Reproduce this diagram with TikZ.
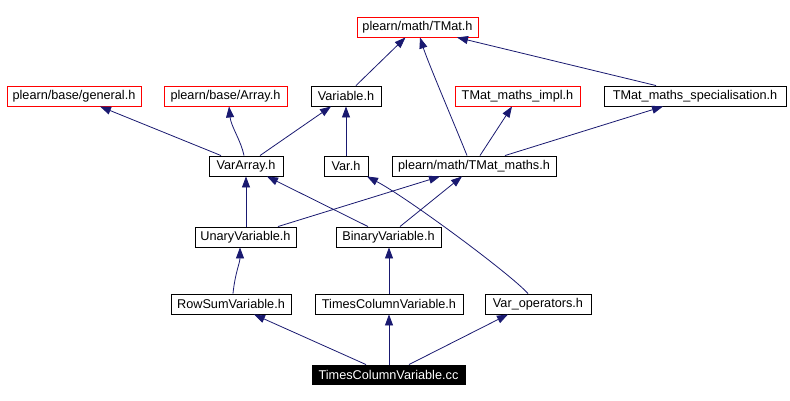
\documentclass[tikz,border=0pt]{standalone}
\usepackage{fontspec}
\setmainfont{Liberation Sans}
\usetikzlibrary{arrows.meta}
\definecolor{navy}{HTML}{191970}
\begin{document}
\begin{tikzpicture}[x=1pt,y=-1pt,
  box/.style={draw=black,line width=0.9pt,fill=white,minimum height=20pt,inner sep=0pt,
    font=\fontsize{12.7}{15}\selectfont,text=black},
  redbox/.style={box,draw=red},
  mainbox/.style={box,fill=black,text=white},
  edge/.style={draw=navy,line width=0.8pt,{Triangle[length=11pt,width=8pt,fill=navy]}-}]
\useasboundingbox (0,0) rectangle (790,401);
\node[redbox,minimum width=121pt] (TMat) at (417.5,27) {plearn/math/TMat.h};
\node[redbox,minimum width=134pt] (general) at (74,96) {plearn/base/general.h};
\node[redbox,minimum width=123pt] (Array) at (225.5,96) {plearn/base/Array.h};
\node[box,minimum width=70pt] (Variable) at (346,96) {Variable.h};
\node[redbox,minimum width=125pt] (impl) at (517.5,96) {TMat\_maths\_impl.h};
\node[box,minimum width=182pt] (spec) at (695,96) {TMat\_maths\_specialisation.h};
\node[box,minimum width=74pt] (VarArray) at (246,166) {VarArray.h};
\node[box,minimum width=44pt] (Var) at (346,166) {Var.h};
\node[box,minimum width=164pt] (maths) at (474,166) {plearn/math/TMat\_maths.h};
\node[box,minimum width=101pt] (Unary) at (245.5,237) {UnaryVariable.h};
\node[box,minimum width=105pt] (Binary) at (388.5,237) {BinaryVariable.h};
\node[box,minimum width=120pt] (RowSum) at (231,304) {RowSumVariable.h};
\node[box,minimum width=148pt] (TCV) at (389,304) {TimesColumnVariable.h};
\node[box,minimum width=106pt] (VarOps) at (538,304) {Var\_operators.h};
\node[mainbox,minimum width=153pt,minimum height=19pt] (cc) at (388.5,374.5) {TimesColumnVariable.cc};
% edges (arrow at target)
\draw[edge] ([xshift=23]RowSum.south) -- ([xshift=-22.5]cc.north);
\draw[edge] (TCV.south) -- (TCV.south |- cc.north);
\draw[edge] ([xshift=-30]VarOps.south) -- ([xshift=20.5]cc.north);
\draw[edge] ([xshift=-5.5]Unary.south) .. controls +(0,15) and +(2,-20) .. ([xshift=2]RowSum.north);
\draw[edge] (Binary.south -| TCV.north) -- (TCV.north);
\draw[edge] ([xshift=21]Var.south) .. controls +(40,21) and +(-18,-20) .. ([xshift=-10]VarOps.north);
\draw[edge] (VarArray.south) -- (VarArray.south |- Unary.north);
\draw[edge] ([xshift=-34]maths.south) -- ([xshift=32.5]Unary.north);
\draw[edge] ([xshift=21]VarArray.south) -- ([xshift=-20.5]Binary.north);
\draw[edge] ([xshift=-12]maths.south) -- ([xshift=11.5]Binary.north);
\draw[edge] ([xshift=26]general.south) -- ([xshift=-25]VarArray.north);
\draw[edge] ([xshift=3.5]Array.south) .. controls +(2,20) and +(-3,-15) .. ([xshift=-2]VarArray.north);
\draw[edge] ([xshift=-15]Variable.south) -- ([xshift=14]VarArray.north);
\draw[edge] (Variable.south) -- (Variable.south |- Var.north);
\draw[edge] ([xshift=-12]TMat.south) -- ([xshift=10]Variable.north);
\draw[edge] ([xshift=2.5]TMat.south) .. controls +(8,25) and +(-12,-30) .. ([xshift=-7]maths.north);
\draw[edge] ([xshift=-5.5]impl.south) -- ([xshift=6]maths.north);
\draw[edge] ([xshift=-32]spec.south) -- ([xshift=31]maths.north);
\draw[edge] ([xshift=39.5]TMat.south) -- ([xshift=-39]spec.north);
\end{tikzpicture}
\end{document}
